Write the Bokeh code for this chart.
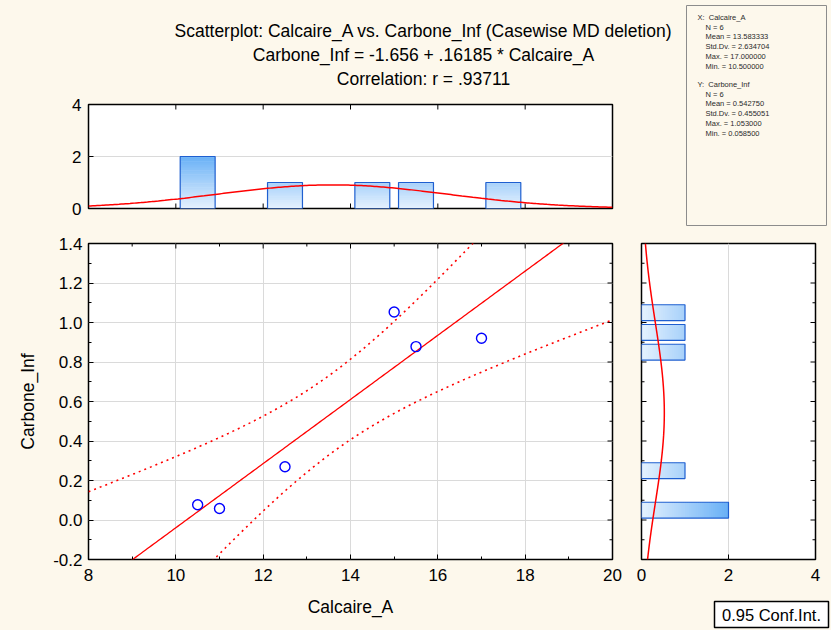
import numpy as np
from bokeh.plotting import figure
from bokeh.layouts import column, row
from bokeh.models import Range1d, Label, FixedTicker, Plot
from bokeh.embed import file_html
from bokeh.resources import INLINE
from bokeh.core.properties import value

# ---------------- data ----------------
calcaire_a = [10.5, 11.0, 12.5, 15.0, 15.5, 17.0]
carbone_inf = [0.077, 0.0585, 0.27, 1.053, 0.878, 0.92]

x_hist_centers = [10.5, 12.5, 14.5, 15.5, 17.5]
x_hist_counts = [2, 1, 1, 1, 1]
x_bin_width = 1.0
y_hist_centers = [0.05, 0.25, 0.85, 0.95, 1.05]
y_hist_counts = [2, 1, 1, 1, 1]
y_bin_width = 0.1

x_ticks = [8, 10, 12, 14, 16, 18, 20]
y_ticks = [-0.2, 0.0, 0.2, 0.4, 0.6, 0.8, 1.0, 1.2, 1.4]
y_tick_labels = ["-0.2", "0.0", "0.2", "0.4", "0.6", "0.8", "1.0", "1.2", "1.4"]
count_ticks = [0, 2, 4]

title_lines = [
    "Scatterplot: Calcaire_A vs. Carbone_Inf (Casewise MD deletion)",
    "Carbone_Inf = -1.656 + .16185 * Calcaire_A",
    "Correlation: r = .93711",
]
stats_x = ["X:\u00a0\u00a0Calcaire_A", "N = 6", "Mean = 13.583333", "Std.Dv. = 2.634704",
           "Max. = 17.000000", "Min. = 10.500000"]
stats_y = ["Y:\u00a0\u00a0Carbone_Inf", "N = 6", "Mean = 0.542750", "Std.Dv. = 0.455051",
           "Max. = 1.053000", "Min. = 0.058500"]
conf_label = "0.95 Conf.Int."
t_crit = 2.776445  # t(0.975, df=4)

# ---------------- styles ----------------
FONT = "Liberation Sans"
CREAM = "#fdf8ec"
GRID = "#dadada"
BAR_LINE = "#1f5fd0"
RED = "#ff0000"
LOW = np.array([230, 242, 254])
HIGH = np.array([104, 176, 246])
TICK_FS = "17px"
LABEL_FS = "17.5px"
EXTRA = {"frame_align": False} if "frame_align" in Plot.properties() else {}
BG = {"background-color": CREAM}

x = np.array(calcaire_a)
y = np.array(carbone_inf)
n = len(x)
slope, intercept = np.polyfit(x, y, 1)
xm = x.mean()
sxx = ((x - xm) ** 2).sum()
resid = y - (intercept + slope * x)
s = np.sqrt((resid ** 2).sum() / (n - 2))
xs = np.linspace(8, 20, 241)
fit = intercept + slope * xs
half = t_crit * s * np.sqrt(1.0 / n + (xs - xm) ** 2 / sxx)


def grad_color(level):
    f = min(max(level / 2.0, 0), 1)
    c = LOW + (HIGH - LOW) * f
    return "#%02x%02x%02x" % tuple(int(round(v)) for v in c)


def style_axis(ax):
    ax.major_tick_in = 5
    ax.major_tick_out = 0
    ax.minor_tick_in = 3
    ax.minor_tick_out = 0
    ax.axis_line_color = None
    ax.major_tick_line_color = "black"
    ax.minor_tick_line_color = "black"
    ax.major_label_text_font = FONT
    ax.major_label_text_font_size = TICK_FS
    ax.major_label_text_color = "black"
    ax.axis_label_text_font = FONT
    ax.axis_label_text_font_size = LABEL_FS
    ax.axis_label_text_font_style = "normal"
    ax.axis_label_text_color = "black"


def base_fig(**kw):
    p = figure(output_backend="svg", toolbar_location=None, **EXTRA, **kw)
    p.background_fill_color = "white"
    p.border_fill_color = CREAM
    p.outline_line_color = "black"
    p.outline_line_width = 1.5
    return p


def blank_fig(width, height, xr, yr, **kw):
    p = figure(output_backend="svg", toolbar_location=None, width=width, height=height,
               x_range=xr, y_range=yr, x_axis_type=None, y_axis_type=None, **EXTRA, **kw)
    p.grid.visible = False
    p.border_fill_color = CREAM
    return p


def mirror_ticks(p, xs_, ys_, angle, length):
    p.ray(x=xs_, y=ys_, length=length, length_units="screen", angle=angle,
          line_color="black", line_width=1)


# ---------------- header (title) ----------------
header = blank_fig(686, 95, Range1d(0, 686), Range1d(95, 0),
                   min_border_left=0, min_border_right=0, min_border_top=0, min_border_bottom=0)
header.background_fill_color = CREAM
header.outline_line_color = None
for i, t in enumerate(title_lines):
    header.add_layout(Label(x=423, y=30 + 24 * i, text=t, text_align="center",
                            text_baseline="middle", text_font=FONT,
                            text_font_size=LABEL_FS, text_color="black"))

# ---------------- top histogram ----------------
top = base_fig(width=686, height=135, x_range=Range1d(8, 20), y_range=Range1d(0, 4),
               min_border_left=88, min_border_right=74, min_border_top=9, min_border_bottom=22)
top.xaxis.visible = False
top.yaxis.ticker = FixedTicker(ticks=count_ticks)
style_axis(top.yaxis[0])
top.yaxis.major_label_standoff = 7
top.xgrid.visible = False
top.ygrid.ticker = FixedTicker(ticks=count_ticks)
top.ygrid.grid_line_color = GRID
mirror_ticks(top, x_ticks, [0] * len(x_ticks), np.pi / 2, 5)
mirror_ticks(top, x_ticks, [4] * len(x_ticks), -np.pi / 2, 5)
bw = 0.8 * x_bin_width
for c, k in zip(x_hist_centers, x_hist_counts):
    lv = np.arange(0, k, 0.05)
    top.quad(left=c - bw / 2, right=c + bw / 2, bottom=lv, top=np.minimum(lv + 0.07, k),
             fill_color=[grad_color(v + 0.025) for v in lv], line_color=None)
top.quad(left=[c - bw / 2 for c in x_hist_centers], right=[c + bw / 2 for c in x_hist_centers],
         bottom=0, top=x_hist_counts, fill_color=None, line_color=BAR_LINE, line_width=1.2)
sx = x.std(ddof=1)
dens_x = n * x_bin_width * np.exp(-0.5 * ((xs - xm) / sx) ** 2) / (sx * np.sqrt(2 * np.pi))
top.line(xs, dens_x, line_color=RED, line_width=1.5)

# ---------------- stats box ----------------
stats = blank_fig(145, 230, Range1d(0, 140), Range1d(220, 0),
                  min_border_left=0, min_border_right=5, min_border_top=5, min_border_bottom=5)
stats.background_fill_color = CREAM
stats.outline_line_color = "#8c8c8c"
stats.outline_line_width = 1
for block, y0 in ((stats_x, 12), (stats_y, 79)):
    stats.text(x=[11] + [19] * (len(block) - 1), y=[y0 + 9.7 * i for i in range(len(block))],
               text=block, text_font=value(FONT), text_font_size="7.5px",
               text_baseline="middle", text_align="left", text_color="#2a2a2a")

# ---------------- main scatter ----------------
main = base_fig(width=630, height=400, x_range=Range1d(8, 20), y_range=Range1d(-0.2, 1.4),
                min_border_left=88, min_border_right=18, min_border_top=13, min_border_bottom=71)
x_minor = [a + 1 for a in x_ticks[:-1]]
y_minor = [round(a + 0.1, 2) for a in y_ticks[:-1]]
main.xaxis.ticker = FixedTicker(ticks=x_ticks, minor_ticks=x_minor)
main.yaxis.ticker = FixedTicker(ticks=y_ticks, minor_ticks=y_minor)
main.yaxis.major_label_overrides = {t: l for t, l in zip(y_ticks, y_tick_labels)}
style_axis(main.xaxis[0])
style_axis(main.yaxis[0])
main.xaxis.axis_label = "Calcaire_A"
main.yaxis.axis_label = "Carbone_Inf"
main.xaxis.major_label_standoff = 9
main.yaxis.major_label_standoff = 6
main.xaxis.axis_label_standoff = 13
main.yaxis.axis_label_standoff = 12
main.xgrid.ticker = FixedTicker(ticks=x_ticks)
main.ygrid.ticker = FixedTicker(ticks=y_ticks)
main.grid.grid_line_color = GRID
mirror_ticks(main, [20] * len(y_ticks), y_ticks, np.pi, 5)
mirror_ticks(main, [20] * len(y_minor), y_minor, np.pi, 3)
mirror_ticks(main, x_ticks, [1.4] * len(x_ticks), -np.pi / 2, 5)
mirror_ticks(main, x_minor, [1.4] * len(x_minor), -np.pi / 2, 3)
main.line(xs, fit, line_color=RED, line_width=1.3)
main.line(xs, fit + half, line_color=RED, line_width=1.6, line_dash="2 4")
main.line(xs, fit - half, line_color=RED, line_width=1.6, line_dash="2 4")
main.scatter(calcaire_a, carbone_inf, marker="circle", size=10, fill_color=None,
             line_color="#0000ff", line_width=1.4)

# ---------------- right histogram ----------------
right = base_fig(width=201, height=370, x_range=Range1d(0, 4), y_range=main.y_range,
                 min_border_left=11, min_border_right=16, min_border_top=13, min_border_bottom=41)
right.xaxis.ticker = FixedTicker(ticks=count_ticks)
style_axis(right.xaxis[0])
right.xaxis.major_label_standoff = 9
right.yaxis.visible = False
right.ygrid.visible = False
right.xgrid.ticker = FixedTicker(ticks=count_ticks)
right.xgrid.grid_line_color = GRID
mirror_ticks(right, [0] * len(y_ticks), y_ticks, 0, 5)
mirror_ticks(right, [0] * len(y_minor), y_minor, 0, 3)
mirror_ticks(right, [4] * len(y_ticks), y_ticks, np.pi, 5)
mirror_ticks(right, [4] * len(y_minor), y_minor, np.pi, 3)
bh = 0.8 * y_bin_width
for c, k in zip(y_hist_centers, y_hist_counts):
    lv = np.arange(0, k, 0.05)
    right.quad(bottom=c - bh / 2, top=c + bh / 2, left=lv, right=np.minimum(lv + 0.07, k),
               fill_color=[grad_color(v + 0.025) for v in lv], line_color=None)
right.quad(bottom=[c - bh / 2 for c in y_hist_centers], top=[c + bh / 2 for c in y_hist_centers],
           left=0, right=y_hist_counts, fill_color=None, line_color=BAR_LINE, line_width=1.2)
ym = y.mean()
sy = y.std(ddof=1)
ys_c = np.linspace(-0.2, 1.4, 200)
dens_y = n * y_bin_width * np.exp(-0.5 * ((ys_c - ym) / sy) ** 2) / (sy * np.sqrt(2 * np.pi))
right.line(dens_y, ys_c, line_color=RED, line_width=1.5)

# ---------------- confidence-interval legend box ----------------
conf = blank_fig(201, 30, Range1d(0, 1), Range1d(0, 1),
                 min_border_left=84, min_border_right=3, min_border_top=1, min_border_bottom=3)
conf.background_fill_color = "white"
conf.outline_line_color = "black"
conf.outline_line_width = 1.5
conf.add_layout(Label(x=0.5, y=0.5, text=conf_label, text_align="center", text_baseline="middle",
                      text_font=FONT, text_font_size="16.5px", text_color="black"))

layout = column(
    row(column(header, top, spacing=0, styles=BG), stats, spacing=0, styles=BG),
    row(main, column(right, conf, spacing=0, styles=BG), spacing=0, styles=BG),
    spacing=0, styles=BG,
)
open("out.html", "w").write(file_html(layout, INLINE))
